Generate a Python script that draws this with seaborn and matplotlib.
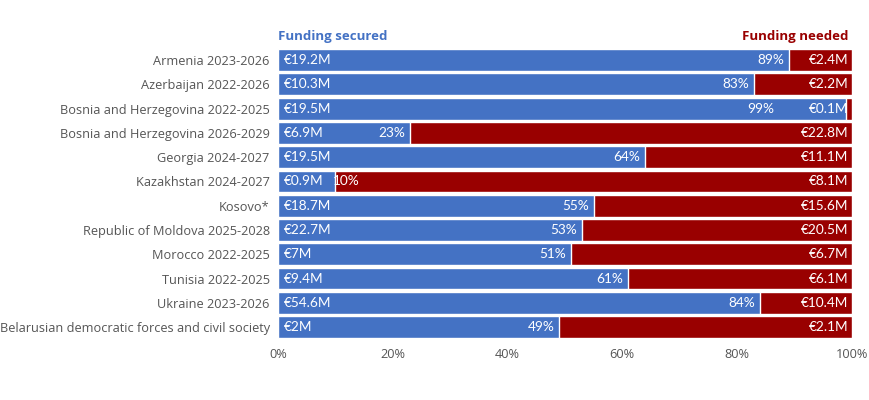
import pandas as pd
import numpy as np
import matplotlib.pyplot as plt
import seaborn as sns

# Données
programmes = [
    'Armenia 2023-2026', 'Azerbaijan 2022-2026', 'Bosnia and Herzegovina 2022-2025',
    'Bosnia and Herzegovina 2026-2029', 'Georgia 2024-2027', 'Kazakhstan 2024-2027',
    'Kosovo*', 'Republic of Moldova 2025-2028', 'Morocco 2022-2025', 'Tunisia 2022-2025',
    'Ukraine 2023-2026', 'Belarusian democratic forces and civil society'
]
secured_m = [19.2, 10.3, 19.5, 6.9, 19.5, 0.9, 18.7, 22.7, 7, 9.4, 54.6, 2]
needed_m = [2.4, 2.2, 0.1, 22.8, 11.1, 8.1, 15.6, 20.5, 6.7, 6.1, 10.4, 2.1]
secured_pct = [89, 83, 99, 23, 64, 10, 55, 53, 51, 61, 84, 49]
xticks = [0, 20, 40, 60, 80, 100]

blue = '#4472C4'
red = '#990000'

df = pd.DataFrame({
    'programme': programmes,
    'secured': secured_m,
    'needed': needed_m,
    'pct': secured_pct,
})
df['total'] = 100

sns.set_theme(style='white')
plt.rcParams['font.family'] = ['Open Sans', 'DejaVu Sans']

fig = plt.figure(figsize=(8.7, 4), dpi=100)
ax = fig.add_axes([0.3195, 0.152, 0.6595, 0.728])

sns.barplot(data=df, y='programme', x='total', color=red, orient='h',
            width=0.9, saturation=1, ax=ax)
sns.barplot(data=df, y='programme', x='pct', color=blue, orient='h',
            width=0.9, saturation=1, ax=ax)

label_font = ['Lato', 'DejaVu Sans']
for i, row in df.iterrows():
    ax.text(1, i, f"€{row['secured']:g}M", color='white', va='center', ha='left',
            fontsize=9.8, family=label_font)
    if row['pct'] < 15:
        ax.text(row['pct'] - 0.5, i, f"{row['pct']}%", color='white', va='center',
                ha='left', fontsize=9.8, family=label_font)
    else:
        # éviter le chevauchement avec l'étiquette "needed" quand la part rouge est minuscule
        px = row['pct'] - 0.8 if row['pct'] < 95 else 86.5
        ax.text(px, i, f"{row['pct']}%", color='white', va='center',
                ha='right', fontsize=9.8, family=label_font)
    ax.text(99.4, i, f"€{row['needed']:g}M", color='white', va='center', ha='right',
            fontsize=9.8, family=label_font)

ax.set_xlim(0, 100)
ax.set_ylim(len(df) - 0.5, -0.5)
ax.set_xticks(xticks)
ax.set_xticklabels([f'{t}%' for t in xticks])
ax.set_xlabel('')
ax.set_ylabel('')
ax.tick_params(axis='both', length=0, colors='#555555', labelsize=9.2)
ax.tick_params(axis='x', pad=6)
ax.tick_params(axis='y', pad=6)
for s in ax.spines.values():
    s.set_visible(False)

ax.text(0, -0.72, 'Funding secured', color=blue, fontweight='bold', fontsize=9.5,
        ha='left', va='bottom')
ax.text(99.4, -0.72, 'Funding needed', color=red, fontweight='bold', fontsize=9.5,
        ha='right', va='bottom')

plt.savefig('out.png', dpi=100)
plt.close()
